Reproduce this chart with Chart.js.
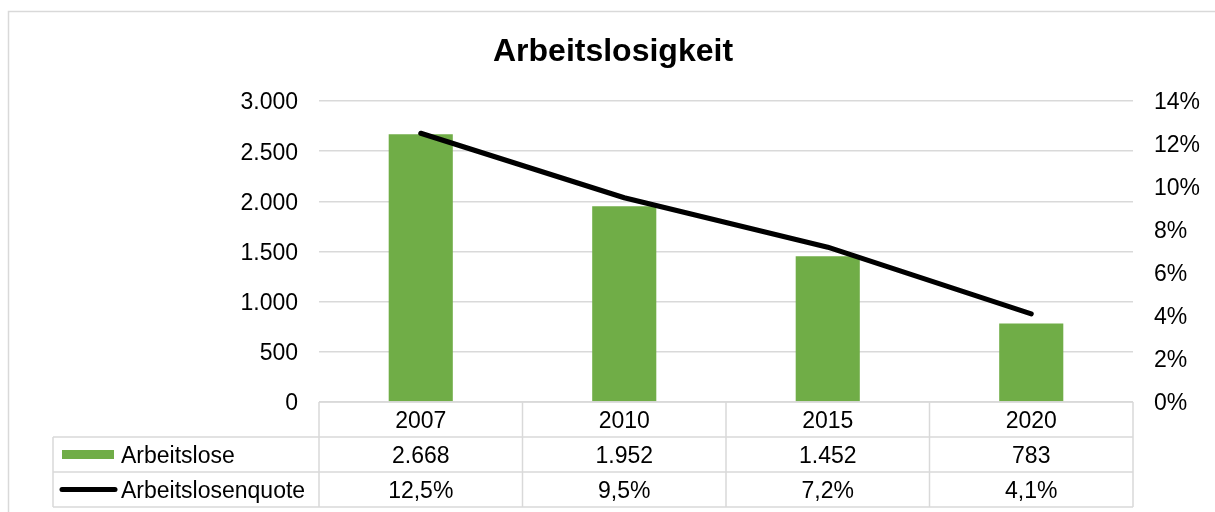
<!DOCTYPE html>
<html>
<head>
<meta charset="utf-8">
<script src="https://cdn.jsdelivr.net/npm/chart.js@4"></script>
<style>
  body { margin: 0; background: #fff; }
</style>
</head>
<body>
<canvas id="chart" width="1215" height="512"></canvas>
<script>
const years = ['2007', '2010', '2015', '2020'];
const arbeitslose = [2668, 1952, 1452, 783];
const quote = [12.5, 9.5, 7.2, 4.1];   // in %
const seriesNames = ['Arbeitslose', 'Arbeitslosenquote'];

const FONT = '"Liberation Sans", Arial, sans-serif';
const GREEN = '#70ad47';
const GRID = '#d9d9d9';

// 2668 -> "2.668"
function fmtDe(v) {
    return String(v).replace(/\B(?=(\d{3})+(?!\d))/g, '.');
}
function fmtPct(v) {
    return v.toFixed(1).replace('.', ',') + '%';
}

// outer chart frame (Excel style)
const frame = {
    id: 'frame',
    beforeDraw(chart) {
        const ctx = chart.ctx;
        ctx.save();
        ctx.strokeStyle = GRID;
        ctx.lineWidth = 1.5;
        ctx.strokeRect(8.5, 11.5, 1400, 700);
        ctx.restore();
    }
};

// data table under the plot
const dataTable = {
    id: 'dataTable',
    afterDraw(chart) {
        const ctx = chart.ctx;
        const area = chart.chartArea;
        const x = chart.scales.x;
        const colW = (area.right - area.left) / years.length;
        const rowH = 35;
        const top = area.bottom;
        const legendLeft = 53;
        const ty = 2; // text nudge

        ctx.save();
        ctx.strokeStyle = GRID;
        ctx.lineWidth = 1.5;
        ctx.beginPath();
        ctx.moveTo(area.left, top);
        ctx.lineTo(area.right, top);
        for (let r = 1; r <= 3; r++) {
            ctx.moveTo(legendLeft, top + r * rowH);
            ctx.lineTo(area.right, top + r * rowH);
        }
        for (let i = 0; i <= years.length; i++) {
            const px = area.left + i * colW;
            ctx.moveTo(px, top);
            ctx.lineTo(px, top + 3 * rowH);
        }
        ctx.moveTo(legendLeft, top + rowH);
        ctx.lineTo(legendLeft, top + 3 * rowH);
        ctx.stroke();

        ctx.fillStyle = '#000';
        ctx.font = '23px ' + FONT;
        ctx.textBaseline = 'middle';
        ctx.textAlign = 'center';
        years.forEach((y, i) => {
            const cx = x.getPixelForValue(i);
            ctx.fillText(y, cx, top + rowH * 0.5 + ty);
            ctx.fillText(fmtDe(arbeitslose[i]), cx, top + rowH * 1.5 + ty);
            ctx.fillText(fmtPct(quote[i]), cx, top + rowH * 2.5 + ty);
        });

        // legend keys
        ctx.textAlign = 'left';
        ctx.fillText(seriesNames[0], 121, top + rowH * 1.5 + ty);
        ctx.fillText(seriesNames[1], 121, top + rowH * 2.5 + ty);
        ctx.fillStyle = GREEN;
        ctx.fillRect(62, top + rowH * 1.5 - 4.5, 52, 9);
        ctx.strokeStyle = '#000';
        ctx.lineWidth = 5;
        ctx.lineCap = 'round';
        ctx.beginPath();
        ctx.moveTo(62, top + rowH * 2.5);
        ctx.lineTo(115, top + rowH * 2.5);
        ctx.stroke();
        ctx.restore();
    }
};

const ctx = document.getElementById('chart').getContext('2d');
new Chart(ctx, {
    data: {
        labels: years,
        datasets: [
            {
                type: 'line',
                label: seriesNames[1],
                data: quote,
                yAxisID: 'y1',
                borderColor: '#000',
                borderWidth: 5,
                borderCapStyle: 'round',
                borderJoinStyle: 'round',
                pointRadius: 0,
                tension: 0,
                order: 0
            },
            {
                type: 'bar',
                label: seriesNames[0],
                data: arbeitslose,
                yAxisID: 'y',
                backgroundColor: GREEN,
                barPercentage: 1,
                categoryPercentage: 0.315,
                order: 1
            }
        ]
    },
    options: {
        responsive: false,
        animation: false,
        devicePixelRatio: 1,
        layout: { padding: { left: 11, right: 0, top: 0, bottom: 110 } },
        plugins: {
            legend: { display: false },
            tooltip: { enabled: false },
            title: {
                display: true,
                text: 'Arbeitslosigkeit',
                color: '#000',
                font: { family: FONT, size: 32, weight: 'bold' },
                padding: { top: 33, bottom: 29.6 }
            }
        },
        scales: {
            x: {
                display: false
            },
            y: {
                position: 'left',
                min: 0,
                max: 3000,
                afterFit(s) { s.width = 308; },
                grid: { color: GRID, lineWidth: 1.5, drawTicks: false },
                border: { display: false },
                ticks: {
                    stepSize: 500,
                    padding: 21,
                    labelOffset: 2,
                    color: '#000',
                    font: { family: FONT, size: 23 },
                    callback: v => fmtDe(v)
                }
            },
            y1: {
                position: 'right',
                min: 0,
                max: 14,
                afterFit(s) { s.width = 82; },
                grid: { display: false, drawTicks: false },
                border: { display: false },
                ticks: {
                    stepSize: 2,
                    padding: 21,
                    labelOffset: 2,
                    color: '#000',
                    font: { family: FONT, size: 23 },
                    callback: v => v + '%'
                }
            }
        }
    },
    plugins: [frame, dataTable]
});
</script>
</body>
</html>
